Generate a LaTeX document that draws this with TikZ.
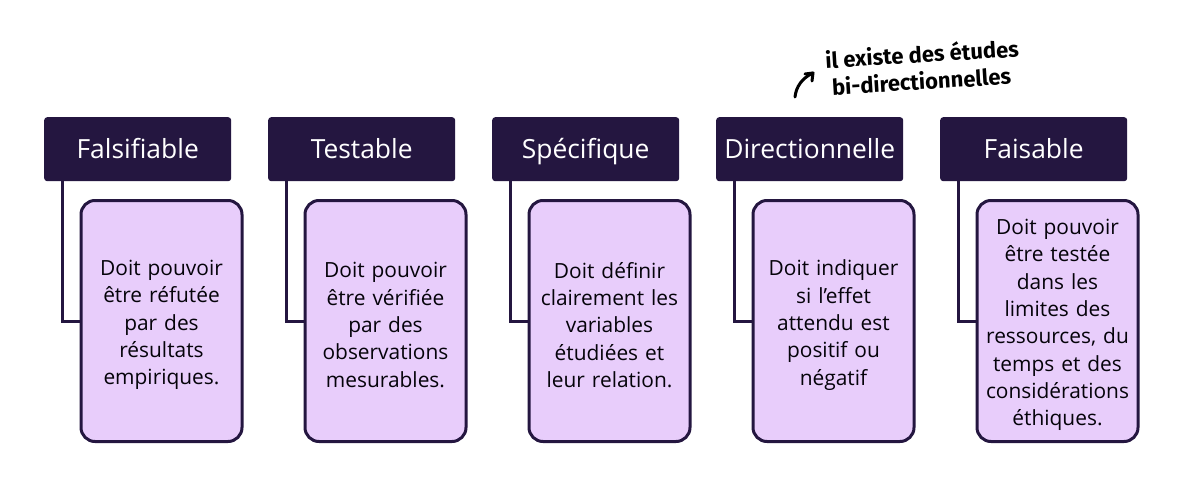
\documentclass[tikz,border=0pt]{standalone}
\usepackage{fontspec}
\setmainfont{Open Sans}
\newfontfamily\hand{Fira Sans}[Scale=1]
\definecolor{darkp}{HTML}{241640}
\definecolor{lightp}{HTML}{E8CDFB}
\tikzset{
 x=1pt,y=-1pt,
 headbox/.style={draw=none,fill=darkp,rounded corners=3pt,minimum width=187pt,minimum height=64pt,inner sep=0pt,text=white,font=\fontsize{26.4}{30}\selectfont,anchor=north west},
 bodybox/.style={draw=darkp,line width=3pt,fill=lightp,rounded corners=14pt,minimum width=161pt,minimum height=241pt,inner sep=0pt,anchor=north west},
 bodytext/.style={align=center,text=black!85!darkp,font=\fontsize{20.9}{27.3}\selectfont,inner sep=0pt,text width=156pt},
 link/.style={draw=darkp,line width=3pt},
 handtext/.style={font=\hand\bfseries\fontsize{22}{27}\selectfont,align=left,text=black,rotate=3.5,inner sep=0pt},
 handline/.style={line width=3pt,line cap=round,line join=round},
}
\begin{document}
\begin{tikzpicture}
\useasboundingbox (0,0) rectangle (1184,482);
\fill[white] (0,0) rectangle (1184,482);
\foreach \i/\hx/\hd/\tx in {
 a/44/Falsifiable/{Doit pouvoir\\être réfutée\\par des\\résultats\\empiriques.},
 b/268/Testable/{Doit pouvoir\\être vérifiée\\par des\\observations\\mesurables.},
 c/492/Spécifique/{Doit définir\\clairement les\\variables\\étudiées et\\leur relation.},
 d/716/Directionnelle/{Doit indiquer\\si l’effet\\attendu est\\positif ou\\négatif},
 e/940/Faisable/{Doit pouvoir\\être testée\\dans les\\limites des\\ressources, du\\temps et des\\considérations\\éthiques.}}{
  \node[headbox] (h\i) at (\hx,117) {\raisebox{-9.5pt}[0pt][0pt]{\hd}};
  \node[bodybox] (b\i) at (\hx+35.5,199) {};
  \node[bodytext] (t\i) at ([yshift=-4pt]b\i.center) {\tx};
  \coordinate (c\i) at (\hx+18,181);
  \draw[link] (c\i) |- (b\i.west);
}
\node[handtext,anchor=west] (note) at (826,73) {il existe des études\\\hspace*{5pt}bi-directionnelles};
\coordinate (ns) at (795,97);
\coordinate (ne) at (813,73);
\draw[handline] (ns) .. controls (796,87) and (802,78) .. (ne);
\draw[handline] (805,74) -- (ne) -- (812,81);
\end{tikzpicture}
\end{document}
